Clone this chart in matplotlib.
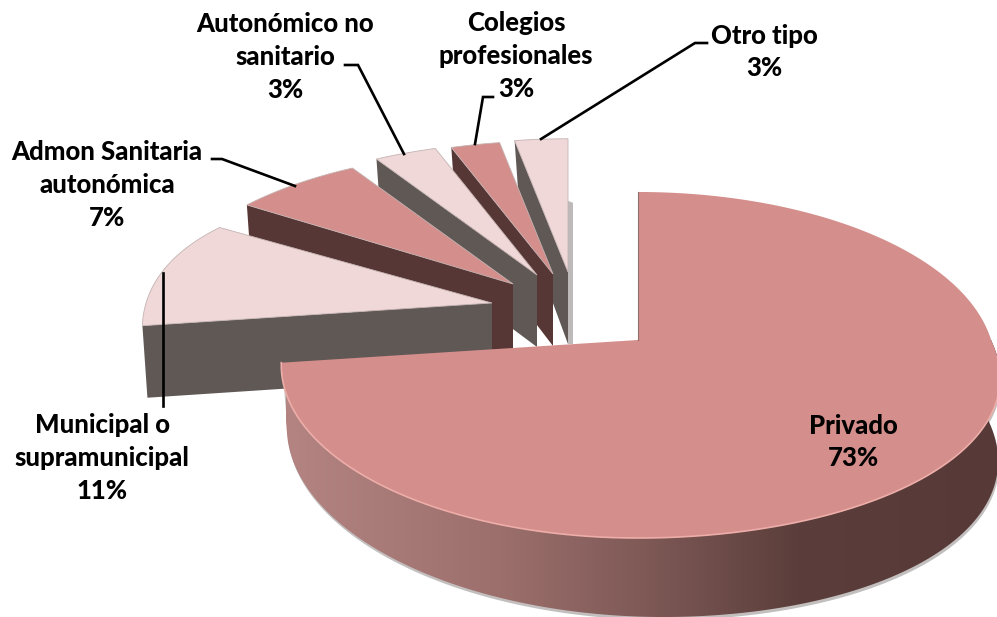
import numpy as np
import matplotlib
matplotlib.use("Agg")
import matplotlib.pyplot as plt
from matplotlib.patches import Polygon
from matplotlib.colors import LinearSegmentedColormap

# Datos
categorias = ["Privado", "Municipal o\nsupramunicipal", "Admon Sanitaria\nautonómica",
              "Autonómico no\nsanitario", "Colegios\nprofesionales", "Otro tipo"]
valores = [72.9, 11.0, 6.9, 3.45, 2.75, 3.0]

# Estilo y disposicion (pixeles de la imagen)
centro = (638, 340)
desplaza = [(0, 0), (-146, -37), (-125, -56), (-101, -65), (-85, -66), (-70, -68)]
escala = [None, (0.98, 0.0, 0.18), (1, 0.08, 0.10), (1, 0.08, 0.10), (1, 0.08, 0.10), (1, 0.08, 0.10)]
color_top = ["#D48E8B", "#EFD8D7", "#D48E8B", "#EFD8D7", "#D48E8B", "#EFD8D7"]
color_lado = ["#573A38", "#605855", "#573735", "#605855", "#573735", "#605855"]
pos_texto = [(853, 442), (102, 458), (107, 185), (285, 57), (516, 56), (764, 52)]
guias = [None,
         [(163, 273), (163, 406)],
         [(212, 159), (222, 159), (295, 186)],
         [(345, 65), (358, 65), (404, 154)],
         [(493, 97), (483, 97), (475, 144)],
         [(707, 43), (695, 43), (541, 139)]]
RX, RY, K = 353, 169.4, 0.1445
FONDO = 72


def proyecta(theta, esc=None):
    # Perspectiva: angulo en grados desde arriba, sentido horario
    t = np.radians(theta)
    X, Y = np.sin(t), np.cos(t)
    w = 1 + K * Y
    sx, sy = np.ones_like(Y), np.ones_like(Y)
    if esc is not None:
        sx = esc[0] - esc[1] * np.maximum(Y, 0)
        sy = 1 - esc[2] * np.maximum(Y, 0)
    return X * RX / w * sx, -Y * RY / w * sy


fig = plt.figure(figsize=(9.97, 6.17), dpi=100)
ax = fig.add_axes([0, 0, 1, 1])

inicios = np.cumsum([0] + valores[:-1]) * 3.6
finales = np.cumsum(valores) * 3.6

# Primero los sectores de atras
for i in range(len(valores) - 1, 0, -1):
    ax_, ay_ = centro[0] + desplaza[i][0], centro[1] + desplaza[i][1]
    th = np.linspace(inicios[i], finales[i], 60)
    x, y = proyecta(th, escala[i])
    x, y = x + ax_, y + ay_
    lado = [(x[0], y[0]), (ax_, ay_), (ax_, ay_ + FONDO), (x[0] + 5, y[0] + FONDO)]
    ax.add_patch(Polygon(lado, closed=True, fc=color_lado[i], ec="none", zorder=2 * (6 - i)))
    if i == 5:
        ax.add_patch(Polygon([(ax_, y[-1] + 62), (ax_ + 5, y[-1] + 64), (ax_ + 5, ay_ + FONDO), (ax_, ay_ + FONDO)],
                             closed=True, fc="#BDBAB9", ec="none", zorder=1))
    ax.add_patch(Polygon(np.r_[[[ax_, ay_]], np.c_[x, y]], closed=True, fc=color_top[i],
                         ec="#C4B4B3", lw=0.6, zorder=2 * (6 - i) + 1))

# Sector grande con su canto en degradado
th = np.linspace(inicios[0], finales[0], 300)
x, y = proyecta(th)
Y = np.cos(np.radians(th))
x = x + 30 * np.maximum(np.sin(np.radians(th)), 0) * np.maximum(-Y, 0)
x, y = x + centro[0], y + centro[1]
xb = x + 3 + 22 * np.maximum(-Y, 0) - 10 * np.maximum(x - centro[0], 0) / 350
yb = y + FONDO + 7 * np.maximum(-Y, 0)
canto = np.r_[np.c_[x, y], np.c_[xb, yb][::-1]]

ax.add_patch(Polygon(canto + [1, 3], closed=True, fc="#A8A4A3", ec="none", alpha=0.7, zorder=20))
cmap = LinearSegmentedColormap.from_list("canto", [(0, "#B38482"), (0.3, "#9C6F6C"), (0.5, "#7F5A57"),
                                                   (0.72, "#5B3E3B"), (1, "#573A38")])
grad = np.linspace(0, 1, 256).reshape(1, -1)
im = ax.imshow(grad, extent=(286, 997, 617, 340), aspect="auto", cmap=cmap, zorder=21)
parche = Polygon(canto, closed=True, transform=ax.transData, fc="none", ec="none")
ax.add_patch(parche)
im.set_clip_path(parche)

ax.add_patch(Polygon(np.r_[[centro], np.c_[x, y]], closed=True, fc=color_top[0], ec="none", zorder=22))
frente = th > 95
ax.plot(x[frente], y[frente], color="#EDADA9", lw=1.2, zorder=23)
ax.plot([centro[0], x[0]], [centro[1], y[0]], color="#8E6F6D", lw=0.8, zorder=23)

# Guias y etiquetas
for g in guias:
    if g is not None:
        gx, gy = zip(*g)
        ax.plot(gx, gy, color="black", lw=1.9, zorder=30, solid_joinstyle="miter")

for nombre, v, (tx, ty) in zip(categorias, valores, pos_texto):
    ax.text(tx, ty, f"{nombre}\n{round(v)}%", ha="center", va="center", family="Lato", weight="black",
            fontsize=18.5, linespacing=1.44, color="black", zorder=31)

ax.set_xlim(0, 997)
ax.set_ylim(617, 0)
ax.axis("off")
fig.savefig("out.png", dpi=100)
